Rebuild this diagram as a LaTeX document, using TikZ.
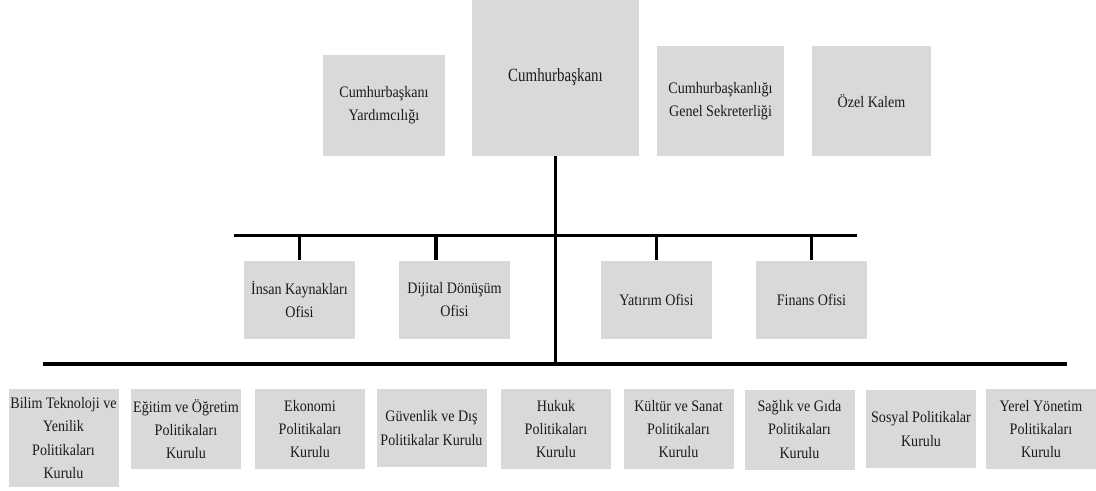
\documentclass[tikz,border=0pt]{standalone}
\usepackage{fontspec}
\setmainfont{Liberation Serif}[FakeStretch=0.88]
\newfontfamily\cbfont{Liberation Serif}[FakeStretch=0.8]
\definecolor{boxgray}{HTML}{D9D9D9}
\definecolor{txt}{HTML}{1A1A1A}
\begin{document}
\begin{tikzpicture}[x=0.75pt,y=-0.75pt,
  box/.style={fill=boxgray, draw=none, align=center, inner sep=0pt, text=txt,
    font=\fontsize{12}{17.5}\selectfont},
  bx/.style 2 args={box, minimum width=#1*0.75pt, minimum height=#2*0.75pt},
  conn/.style={line width=2.3pt, draw=black}]
\useasboundingbox (0,0) rectangle (1096,490);
% top row
\node[bx={167}{156}, font=\cbfont\fontsize{14}{17}\selectfont, text depth=4pt] (cb) at (555.5,78) {Cumhurbaşkanı};
\node[bx={122}{101}] (vp) at (384,105.5) {Cumhurbaşkanı\\Yardımcılığı};
\node[bx={127}{110}] (gs) at (720.5,101) {Cumhurbaşkanlığı\\Genel Sekreterliği};
\node[bx={119}{110}] (ok) at (871.5,101) {Özel Kalem};
% offices
\node[bx={111}{78}] (ik) at (299.5,299.5) {İnsan Kaynakları\\Ofisi};
\node[bx={111}{78}] (dd) at (454.5,299.5) {Dijital Dönüşüm\\Ofisi};
\node[bx={111}{78}] (yo) at (656.5,299.5) {Yatırım Ofisi};
\node[bx={111}{78}] (fo) at (811.5,299.5) {Finans Ofisi};
% councils
\node[bx={110}{98}] (k1) at (63.5,438) {Bilim Teknoloji ve\\Yenilik\\Politikaları\\Kurulu};
\node[bx={110}{80}] (k2) at (186,429) {Eğitim ve Öğretim\\Politikaları\\Kurulu};
\node[bx={110}{80}] (k3) at (310,429) {Ekonomi\\Politikaları\\Kurulu};
\node[bx={110}{78}] (k4) at (431.5,428) {Güvenlik ve Dış\\Politikalar Kurulu};
\node[bx={110}{80}] (k5) at (556,429) {Hukuk\\Politikaları\\Kurulu};
\node[bx={110}{80}] (k6) at (678.5,429) {Kültür ve Sanat\\Politikaları\\Kurulu};
\node[bx={110}{80}] (k7) at (799.5,429.5) {Sağlık ve Gıda\\Politikaları\\Kurulu};
\node[bx={110}{78}] (k8) at (921,429) {Sosyal Politikalar\\Kurulu};
\node[bx={110}{80}] (k9) at (1041,429) {Yerel Yönetim\\Politikaları\\Kurulu};
% connectors
\coordinate (uL) at (234,235.5);
\coordinate (uR) at (857,235.5);
\coordinate (lL) at (43,364);
\coordinate (lR) at (1067,364);
\coordinate (ddj) at (436,235.5);
\draw[conn] (uL) -- (uR);
\draw[conn] (lL) -- (lR);
\draw[conn] (cb.south) -- (cb.south |- lL);
\draw[conn] (ik.north |- uL) -- (ik.north);
\draw[conn] (ddj) -- (ddj |- dd.north);
\draw[conn] (yo.north |- uL) -- (yo.north);
\draw[conn] (fo.north |- uL) -- (fo.north);
\end{tikzpicture}
\end{document}
